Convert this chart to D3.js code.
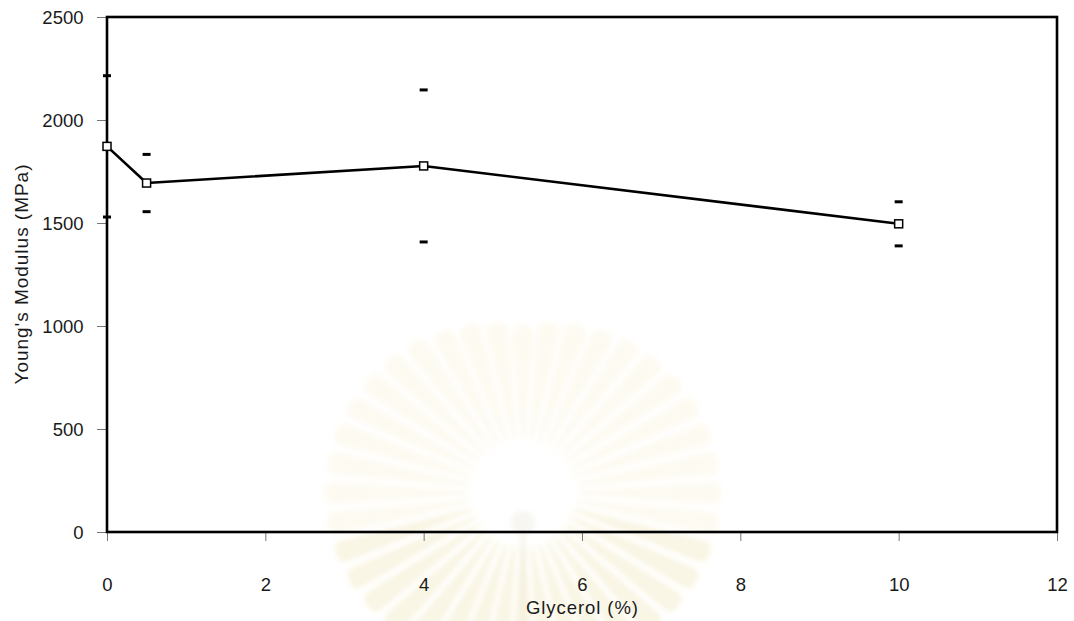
<!DOCTYPE html>
<html>
<head>
<meta charset="utf-8">
<script src="https://cdn.jsdelivr.net/npm/d3@7"></script>
<style>
  html, body { margin: 0; padding: 0; background: #ffffff; }
  svg { display: block; }
  text { font-family: "Liberation Sans", Arial, sans-serif; fill: #1a1a1a; }
</style>
</head>
<body>
<svg id="chart" width="1074" height="621"></svg>
<script>
// ---- data ----
const glycerol = [0, 0.5, 4, 10];
const modulusMean = [1872, 1694, 1777, 1496];
const modulusErr = [343, 139, 369, 107];
const xTickValues = [0, 2, 4, 6, 8, 10, 12];
const yTickValues = [0, 500, 1000, 1500, 2000, 2500];
const xTitle = "Glycerol (%)";
const yTitle = "Young's Modulus (MPa)";

// ---- layout ----
const plotLeft = 107, plotRight = 1057, plotTop = 17, plotBottom = 532;
const svg = d3.select("#chart");

const x = d3.scaleLinear().domain([0, 12]).range([plotLeft, plotRight]);
const y = d3.scaleLinear().domain([0, 2500]).range([plotBottom, plotTop]);

// ---- faint watermark (background decoration) ----
const defs = svg.append("defs");
defs.append("filter").attr("id", "blur").append("feGaussianBlur").attr("stdDeviation", 2.5);
const wm = svg.append("g").attr("transform", "translate(523,493)").attr("filter", "url(#blur)");
const nRays = 40;
for (let i = 0; i < nRays; i++) {
  const a = (i / nRays) * 2 * Math.PI;
  const r0 = 58, r1 = 160 + 30 * Math.abs(Math.cos(a));
  const hw0 = 2, hw1 = 11;
  const c = Math.cos(a), s = Math.sin(a);
  const px = -s, py = c;
  const pts = [
    [c * r0 + px * hw0, s * r0 + py * hw0],
    [c * r1 + px * hw1, s * r1 + py * hw1],
    [c * (r1 + 8), s * (r1 + 8)],
    [c * r1 - px * hw1, s * r1 - py * hw1],
    [c * r0 - px * hw0, s * r0 - py * hw0]
  ];
  wm.append("path")
    .attr("d", d3.line().curve(d3.curveCardinalClosed.tension(0.6))(pts))
    .attr("fill", "#ecd894")
    .attr("opacity", s > 0.3 ? 0.24 : 0.13);
}
wm.append("circle").attr("r", 12).attr("cy", 30).attr("fill", "#e8e4d6").attr("opacity", 0.35);
wm.append("rect").attr("x", -3).attr("y", 42).attr("width", 6).attr("height", 120)
  .attr("fill", "#ece6d2").attr("opacity", 0.35);

// ---- axes ----
const yAxis = d3.axisLeft(y).tickValues(yTickValues).tickSize(10).tickPadding(13.5)
  .tickFormat(d3.format("d"));
const gy = svg.append("g").attr("transform", `translate(${plotLeft},0)`).call(yAxis);
gy.select(".domain").remove();
gy.selectAll(".tick line").attr("stroke", "#777").attr("stroke-width", 1);
gy.selectAll(".tick text").attr("font-size", "18.5px").attr("fill", "#1a1a1a")
  .attr("font-family", "Liberation Sans, Arial, sans-serif").attr("dy", "0.36em");

const xAxis = d3.axisBottom(x).tickValues(xTickValues).tickSize(9).tickPadding(37)
  .tickFormat(d3.format("d"));
const gx = svg.append("g").attr("transform", `translate(0,${plotBottom})`).call(xAxis);
gx.select(".domain").remove();
gx.selectAll(".tick line").attr("stroke", "#777").attr("stroke-width", 1);
gx.selectAll(".tick text").attr("font-size", "18.5px").attr("fill", "#1a1a1a")
  .attr("font-family", "Liberation Sans, Arial, sans-serif");

// plot border
svg.append("rect")
  .attr("x", x(0)).attr("y", y(2500))
  .attr("width", x(12) - x(0)).attr("height", y(0) - y(2500))
  .attr("fill", "none").attr("stroke", "#000").attr("stroke-width", 2.6);

// ---- titles ----
svg.append("text")
  .attr("x", (plotLeft + plotRight) / 2).attr("y", 614)
  .attr("text-anchor", "middle").attr("font-size", "18.5px")
  .attr("textLength", 112).attr("lengthAdjust", "spacing")
  .text(xTitle);

svg.append("text")
  .attr("transform", `translate(28,${(plotTop + plotBottom) / 2}) rotate(-90)`)
  .attr("text-anchor", "middle").attr("font-size", "19px")
  .attr("textLength", 220).attr("lengthAdjust", "spacing")
  .text(yTitle);

// ---- error caps ----
const data = glycerol.map((g, i) => ({ g, m: modulusMean[i], e: modulusErr[i] }));
const caps = svg.append("g");
data.forEach(d => {
  [d.m + d.e, d.m - d.e].forEach(v => {
    caps.append("line")
      .attr("x1", x(d.g) - 4).attr("x2", x(d.g) + 4)
      .attr("y1", y(v)).attr("y2", y(v))
      .attr("stroke", "#000").attr("stroke-width", 3);
  });
});

// ---- line ----
svg.append("path")
  .datum(data)
  .attr("d", d3.line().x(d => x(d.g)).y(d => y(d.m)))
  .attr("fill", "none").attr("stroke", "#000").attr("stroke-width", 2.6)
  .attr("stroke-linejoin", "round");

// ---- markers ----
svg.append("g").selectAll("rect").data(data).join("rect")
  .attr("x", d => x(d.g) - 4).attr("y", d => y(d.m) - 4)
  .attr("width", 8).attr("height", 8)
  .attr("fill", "#fff").attr("stroke", "#000").attr("stroke-width", 1.5);
</script>
</body>
</html>
